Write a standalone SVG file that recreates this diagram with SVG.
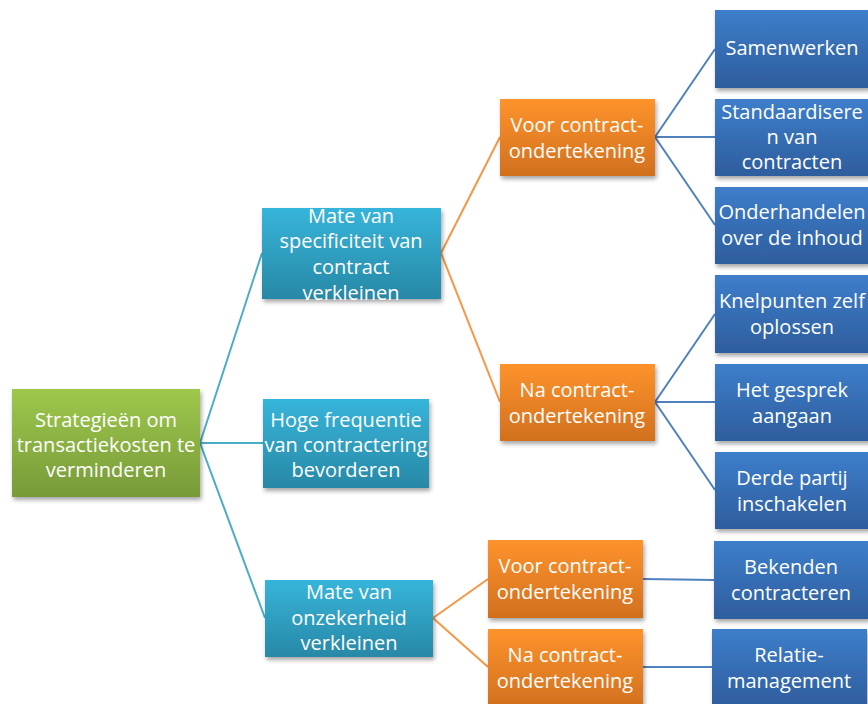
<svg xmlns="http://www.w3.org/2000/svg" width="868" height="704" viewBox="0 0 868 704">
<defs>
<linearGradient id="gGreen" x1="0" y1="0" x2="0" y2="1"><stop offset="0" stop-color="#9DC84C"/><stop offset="1" stop-color="#789A38"/></linearGradient>
<linearGradient id="gTeal" x1="0" y1="0" x2="0" y2="1"><stop offset="0" stop-color="#36B5DA"/><stop offset="1" stop-color="#2888A6"/></linearGradient>
<linearGradient id="gOrange" x1="0" y1="0" x2="0" y2="1"><stop offset="0" stop-color="#FE932C"/><stop offset="1" stop-color="#D1701E"/></linearGradient>
<linearGradient id="gBlue" x1="0" y1="0" x2="0" y2="1"><stop offset="0" stop-color="#3D7ECB"/><stop offset="1" stop-color="#2E5D9D"/></linearGradient>
<filter id="sh" x="-10%" y="-10%" width="130%" height="140%"><feDropShadow dx="1.5" dy="3" stdDeviation="2" flood-color="#000" flood-opacity="0.35"/></filter>
</defs>
<style>
text{font-family:"Open Sans","Noto Sans","DejaVu Sans",sans-serif;font-size:20px;fill:#fff;text-anchor:middle}
.box{filter:url(#sh)}
.green{fill:url(#gGreen)}
.teal{fill:url(#gTeal)}
.orange{fill:url(#gOrange)}
.blue{fill:url(#gBlue)}
.cT{stroke:#4BACC6;stroke-width:2;fill:none}
.cO{stroke:#F79646;stroke-width:2;fill:none}
.cB{stroke:#4F81BD;stroke-width:2;fill:none}
</style>
<g id="connectors">
<path class="cT" d="M200 443 L262 253 M200 443 L263 443 M200 443 L265 618"/>
<path class="cO" d="M441 253 L500 137 M441 253 L500 402"/>
<path class="cB" d="M655 137 L715 49 M655 137 L715 137 M655 137 L715 225"/>
<path class="cB" d="M655 402 L715 314 M655 402 L715 402 M655 402 L715 490"/>
<path class="cO" d="M433 618 L488 579 M433 618 L488 667"/>
<path class="cB" d="M643 579 L714 580 M643 667 L712 667"/>
</g>
<g id="n-root"><rect class="box green" x="12" y="389" width="188" height="108"/>
<text x="106" y="427">Strategieën om</text><text x="106" y="452">transactiekosten te</text><text x="106" y="477">verminderen</text></g>
<g id="n-spec"><rect class="box teal" x="262" y="208" width="179" height="91"/>
<text x="351" y="223">Mate van</text><text x="351" y="248">specificiteit van</text><text x="351" y="274">contract</text><text x="351" y="300">verkleinen</text></g>
<g id="n-freq"><rect class="box teal" x="263" y="399" width="166" height="89"/>
<text x="346" y="427">Hoge frequentie</text><text x="346" y="452">van contractering</text><text x="346" y="477">bevorderen</text></g>
<g id="n-onz"><rect class="box teal" x="265" y="580" width="168" height="77"/>
<text x="349" y="599">Mate van</text><text x="349" y="625">onzekerheid</text><text x="349" y="650">verkleinen</text></g>
<g id="n-voor1"><rect class="box orange" x="500" y="99" width="155" height="77"/>
<text x="577" y="132">Voor contract-</text><text x="577" y="158">ondertekening</text></g>
<g id="n-na1"><rect class="box orange" x="500" y="364" width="155" height="77"/>
<text x="577" y="397">Na contract-</text><text x="577" y="423">ondertekening</text></g>
<g id="n-voor2"><rect class="box orange" x="488" y="540" width="155" height="78"/>
<text x="565" y="573">Voor contract-</text><text x="565" y="599">ondertekening</text></g>
<g id="n-na2"><rect class="box orange" x="488" y="629" width="155" height="78"/>
<text x="565" y="662">Na contract-</text><text x="565" y="688">ondertekening</text></g>
<g id="n-samen"><rect class="box blue" x="715" y="10" width="155" height="78"/>
<text x="792" y="55">Samenwerken</text></g>
<g id="n-stand"><rect class="box blue" x="715" y="99" width="155" height="77"/>
<text x="792" y="119">Standaardisere</text><text x="792" y="144">n van</text><text x="792" y="169">contracten</text></g>
<g id="n-onder"><rect class="box blue" x="715" y="187" width="155" height="77"/>
<text x="792" y="219">Onderhandelen</text><text x="792" y="245">over de inhoud</text></g>
<g id="n-knel"><rect class="box blue" x="715" y="275" width="155" height="78"/>
<text x="792" y="308">Knelpunten zelf</text><text x="792" y="334">oplossen</text></g>
<g id="n-gesprek"><rect class="box blue" x="715" y="364" width="155" height="77"/>
<text x="792" y="397">Het gesprek</text><text x="792" y="423">aangaan</text></g>
<g id="n-derde"><rect class="box blue" x="715" y="452" width="155" height="77"/>
<text x="792" y="485">Derde partij</text><text x="792" y="511">inschakelen</text></g>
<g id="n-bekend"><rect class="box blue" x="714" y="541" width="155" height="78"/>
<text x="791" y="574">Bekenden</text><text x="791" y="600">contracteren</text></g>
<g id="n-relatie"><rect class="box blue" x="712" y="629" width="155" height="78"/>
<text x="789" y="662">Relatie-</text><text x="789" y="688">management</text></g>
</svg>
